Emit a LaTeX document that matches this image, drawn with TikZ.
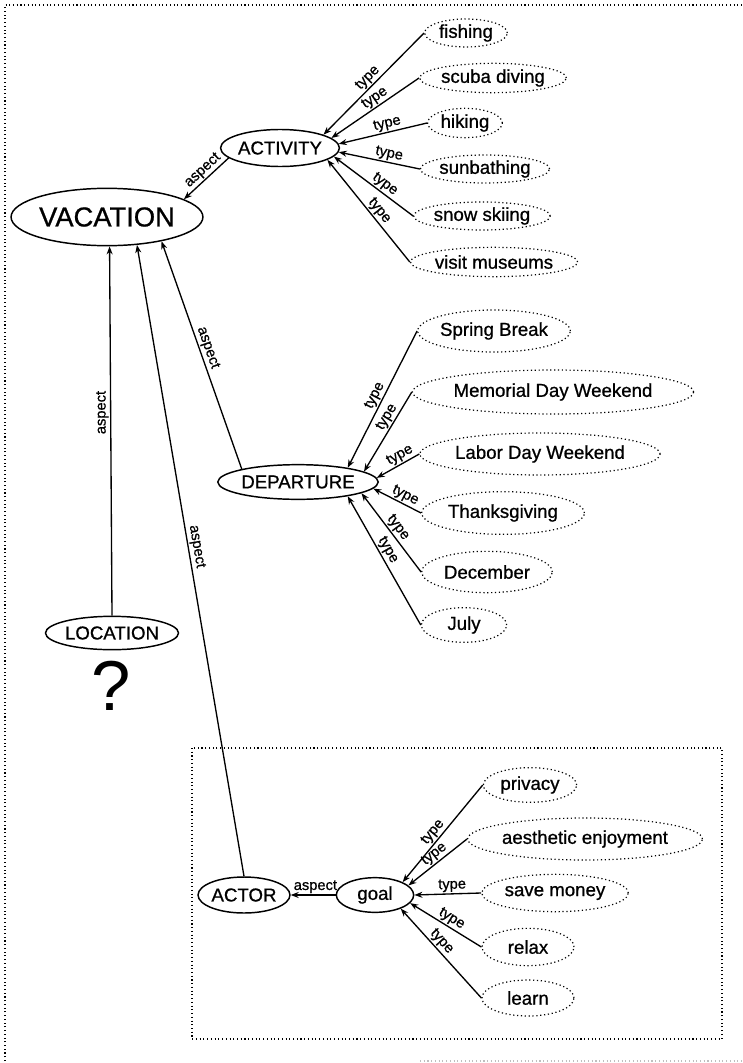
\documentclass[tikz,border=0pt]{standalone}
\usepackage{fontspec}
\setmainfont{Liberation Sans}[FakeBold=0.8]
\newfontfamily\plainsans{Liberation Sans}
\usetikzlibrary{shapes.geometric,arrows.meta}

\tikzset{
  concept/.style={ellipse, draw, line width=1.1pt, inner sep=0pt, font=\fontsize{14}{16}\selectfont},
  value/.style={ellipse, draw, dotted, line width=0.9pt, inner sep=0pt, font=\fontsize{14}{16}\selectfont},
  rel/.style={line width=1pt, -{Stealth[length=6pt,width=4.5pt]}},
  lbl/.style={font=\fontsize{11}{12}\selectfont, inner sep=1pt},
}

\begin{document}
\begin{tikzpicture}[x=0.75pt,y=-0.75pt]
	\useasboundingbox (0,0) rectangle (742,1063);
	% frames
	\draw[dotted, line width=0.8pt] (5,1061) -- (5,5) -- (748,5);
	\draw[dotted, line width=0.8pt, gray!50] (420,1061) -- (742,1061);
	\draw[dotted, line width=0.8pt] (192,748) rectangle (722,1039);

	% main concepts
	\node[concept, minimum width=131pt, minimum height=43pt, font=\fontsize{20.5}{24}\selectfont] (vacation) at (107,217) {VACATION};
	\node[concept, minimum width=79.5pt, minimum height=27.75pt] (activity) at (280,148) {ACTIVITY};
	\node[concept, minimum width=100pt, minimum height=26pt] (departure) at (298,482) {DEPARTURE};
	\node[concept, minimum width=97.5pt, minimum height=25pt] (location) at (112,633) {LOCATION};
	\node[font=\plainsans\fontsize{53}{56}\selectfont, inner sep=0pt] (unknown) at (111,686) {?};
	\node[concept, minimum width=61pt, minimum height=27pt] (actor) at (244,895) {ACTOR};
	\node[concept, minimum width=58pt, minimum height=26pt] (goal) at (375,895) {goal};

	% activity values
	\node[value, minimum width=62pt, minimum height=21pt] (fishing) at (466,33) {fishing};
	\node[value, minimum width=100pt, minimum height=22pt] (scuba) at (493,78) {scuba diving};
	\node[value, minimum width=56pt, minimum height=22pt] (hiking) at (465,123) {hiking};
	\node[value, minimum width=87pt, minimum height=21pt] (sunbathing) at (485,169) {sunbathing};
	\node[value, minimum width=86pt, minimum height=21pt] (skiing) at (482,216) {snow skiing};
	\node[value, minimum width=103pt, minimum height=22pt] (museums) at (494,262) {visit museums};

	% departure values
	\node[value, minimum width=109pt, minimum height=31.5pt] (spring) at (494,331) {Spring Break};
	\node[value, minimum width=197pt, minimum height=33pt] (memorial) at (553,392) {Memorial Day Weekend};
	\node[value, minimum width=177pt, minimum height=31.5pt] (labor) at (540,454) {Labor Day Weekend};
	\node[value, minimum width=122pt, minimum height=32pt] (thanks) at (503,513) {Thanksgiving};
	\node[value, minimum width=98pt, minimum height=31pt] (december) at (487,572) {December};
	\node[value, minimum width=64pt, minimum height=26pt] (july) at (464,625) {July};

	% goal values
	\node[value, minimum width=70pt, minimum height=26pt] (privacy) at (530,785) {privacy};
	\node[value, minimum width=153pt, minimum height=31.5pt] (aesthetic) at (585,839) {aesthetic enjoyment};
	\node[value, minimum width=110pt, minimum height=28pt] (money) at (555,893) {save money};
	\node[value, minimum width=69pt, minimum height=28pt] (relax) at (528,947) {relax};
	\node[value, minimum width=69pt, minimum height=27pt] (learn) at (528,998) {learn};

	% aspect links
	\draw[rel] (activity.191) -- node[lbl, sloped, above, pos=.45] {aspect} (vacation.13);
	\draw[rel] (departure.167) -- node[lbl, sloped, above, pos=.52] {aspect} (vacation.-24);
	\draw[rel] (actor.north) -- node[lbl, sloped, above, pos=.52] {aspect} (vacation.-43);
	\draw[rel] (location.north) -- node[lbl, rotate=90, anchor=south, pos=.55] {aspect} (vacation.-85);
	\draw[rel] (goal.west) -- node[lbl, above, pos=.45] {aspect} (actor.east);

	% type links
	\draw[rel] (fishing.west) -- node[lbl, sloped, above, pos=.5] {type} (activity.17);
	\draw[rel] (scuba.west) -- node[lbl, sloped, above, pos=.45] {type} (activity.11);
	\draw[rel] (hiking.west) -- node[lbl, sloped, above, pos=.43] {type} (activity.4);
	\draw[rel] (sunbathing.west) -- node[lbl, sloped, above, pos=.4] {type} (activity.-4);
	\draw[rel] (skiing.west) -- node[lbl, sloped, above, pos=.42] {type} (activity.-9);
	\draw[rel] (museums.west) -- node[lbl, sloped, above, pos=.45] {type} (activity.-14);

	\draw[rel] (spring.west) -- node[lbl, sloped, above, pos=.5] {type} (departure.16);
	\draw[rel] (memorial.west) -- node[lbl, sloped, above, pos=.37] {type} (departure.9);
	\draw[rel] (labor.west) -- node[lbl, sloped, above, pos=.36] {type} (departure.3);
	\draw[rel] (thanks.west) -- node[lbl, sloped, above, pos=.41] {type} (departure.-5);
	\draw[rel] (december.west) -- node[lbl, sloped, above, pos=.5] {type} (departure.-10);
	\draw[rel] (july.west) -- node[lbl, sloped, above, pos=.55] {type} (departure.-16);

	\draw[rel] (privacy.west) -- node[lbl, sloped, above, pos=.54] {type} (goal.25);
	\draw[rel] (aesthetic.west) -- node[lbl, sloped, above, pos=.47] {type} (goal.16);
	\draw[rel] (money.west) -- node[lbl, sloped, above, pos=.43] {type} (goal.0);
	\draw[rel] (relax.west) -- node[lbl, sloped, above, pos=.48] {type} (goal.-13);
	\draw[rel] (learn.west) -- node[lbl, sloped, above, pos=.57] {type} (goal.-28);
\end{tikzpicture}
\end{document}
